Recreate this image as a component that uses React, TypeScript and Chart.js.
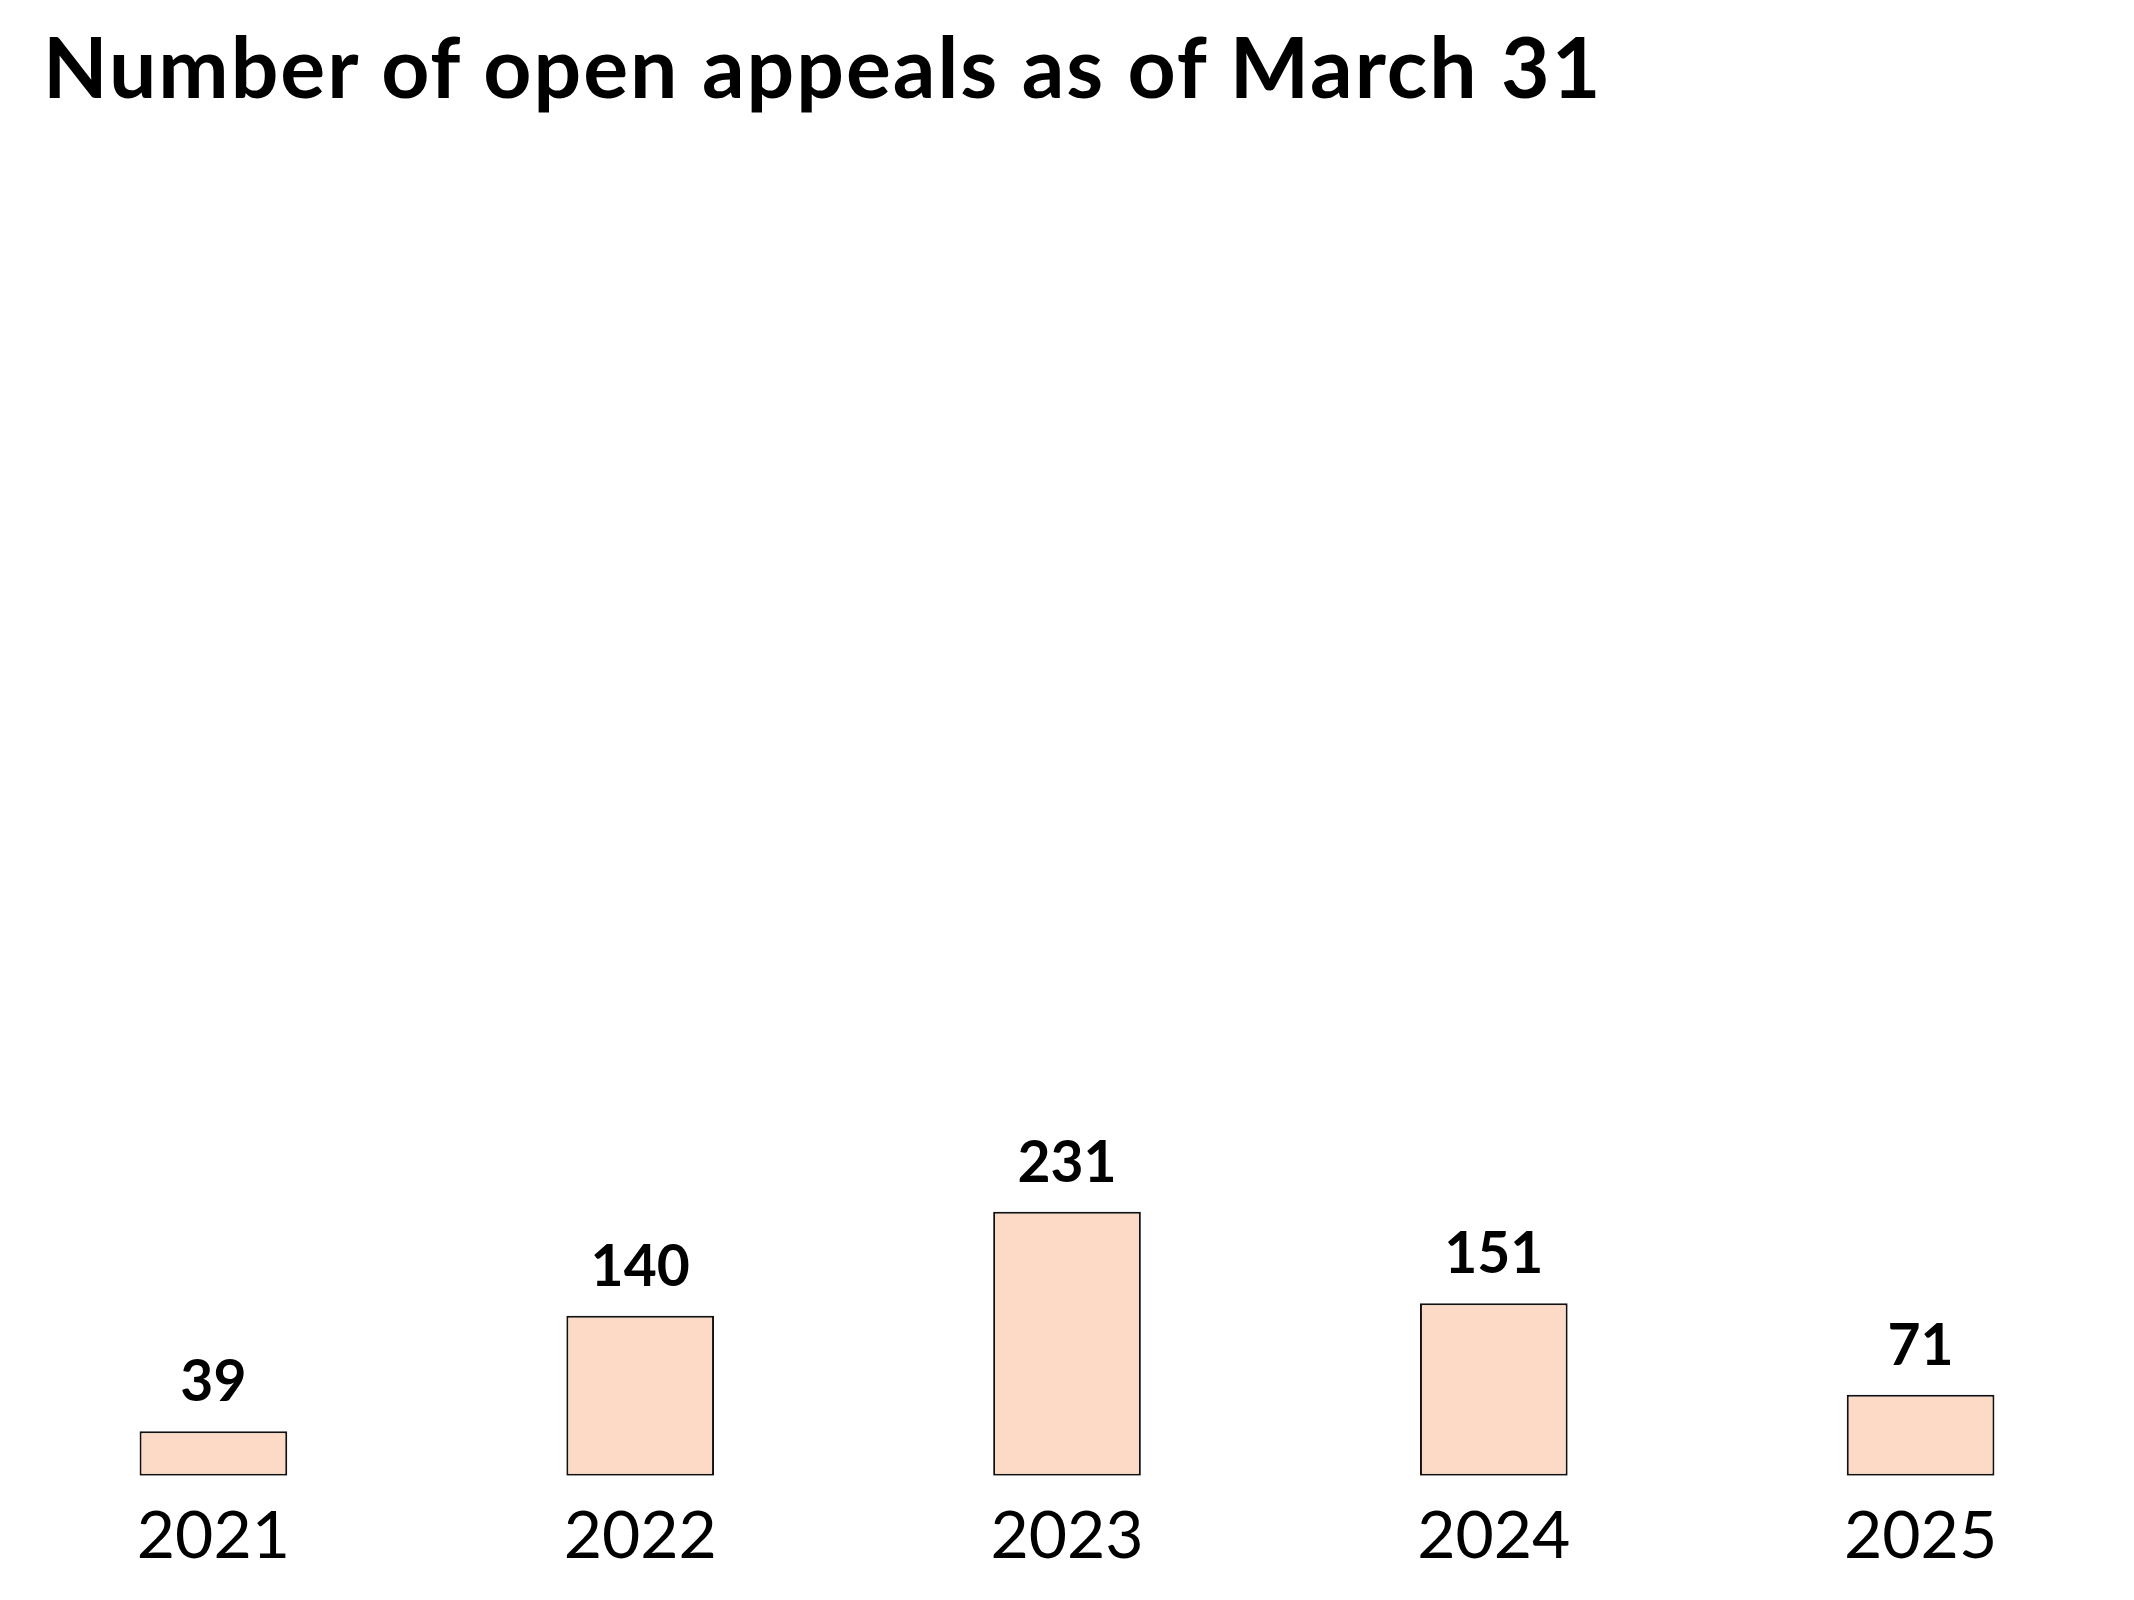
import React, { useEffect, useRef } from 'react';
import Chart from 'chart.js/auto';

// values
const years = ['2021', '2022', '2023', '2024', '2025'];
const openAppeals = [39, 140, 231, 151, 71];

const TITLE = 'Number of open appeals as of March 31';
const FONT = 'Lato, "Open Sans", sans-serif';

// draws the number above each bar
const barValueLabels = {
    id: 'barValueLabels',
    afterDatasetsDraw(chart: any) {
        const { ctx } = chart;
        const meta = chart.getDatasetMeta(0);
        ctx.save();
        ctx.font = `700 57px ${FONT}`;
        ctx.fillStyle = '#000';
        ctx.textAlign = 'center';
        ctx.textBaseline = 'alphabetic';
        meta.data.forEach((bar: any, i: number) => {
            ctx.fillText(String(openAppeals[i]), bar.x, bar.y - 30);
        });
        ctx.restore();
    }
};

const AppealsChart: React.FC = () => {
    const chartRef = useRef<HTMLCanvasElement>(null);
    const chartInstance = useRef<Chart | null>(null);

    useEffect(() => {
        if (!chartRef.current) return;
        if (chartInstance.current) chartInstance.current.destroy();

        chartInstance.current = new Chart(chartRef.current, {
            type: 'bar',
            data: {
                labels: years,
                datasets: [{
                    label: 'Open appeals',
                    data: openAppeals,
                    backgroundColor: '#FDDAC6',
                    borderColor: '#111',
                    borderWidth: 2,
                    borderSkipped: false,
                    barPercentage: 0.346,
                    categoryPercentage: 1
                }]
            },
            options: {
                animation: false,
                responsive: true,
                maintainAspectRatio: false,
                layout: { padding: { top: 150, bottom: 3, left: 0, right: 0 } },
                plugins: {
                    legend: { display: false },
                    tooltip: { enabled: false },
                    title: { display: false }
                },
                scales: {
                    x: {
                        grid: { display: false, drawTicks: false },
                        border: { display: false },
                        ticks: {
                            color: '#000',
                            padding: 21,
                            font: { family: FONT, size: 66, weight: 400 }
                        }
                    },
                    y: {
                        display: false,
                        min: 0,
                        max: 1160
                    }
                }
            },
            plugins: [barValueLabels]
        });

        return () => {
            if (chartInstance.current) {
                chartInstance.current.destroy();
                chartInstance.current = null;
            }
        };
    }, []);

    return <canvas ref={chartRef}></canvas>;
};

export default function App() {
    useEffect(() => {
        document.body.style.margin = '0';
    }, []);

    return (
        <div style={{ position: 'fixed', left: 0, top: 0, width: 2134, height: 1600, background: '#fff' }}>
            <div style={{ position: 'absolute', left: 0, top: 0, width: 2134, height: 1600 }}>
                <AppealsChart />
            </div>
            <div
                style={{
                    position: 'absolute',
                    left: 43,
                    top: 24,
                    fontFamily: FONT,
                    fontWeight: 700,
                    fontSize: 84,
                    letterSpacing: 2,
                    lineHeight: 1,
                    color: '#000',
                    whiteSpace: 'nowrap'
                }}
            >
                {TITLE}
            </div>
        </div>
    );
}
